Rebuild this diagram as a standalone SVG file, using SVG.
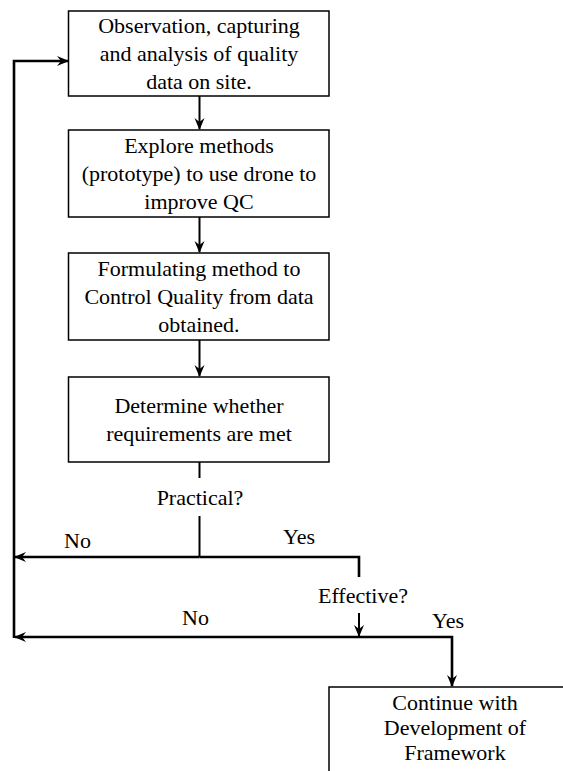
<svg xmlns="http://www.w3.org/2000/svg" width="563" height="771" viewBox="0 0 563 771" font-family="'Liberation Serif', 'Times New Roman', Times, serif">
  <style>
    .box { fill: #ffffff; stroke: #000000; stroke-width: 1.5; }
    text { font-family: 'Liberation Serif', 'Times New Roman', Times, serif; font-size: 22px; fill: #000000; }
    .txt { text-anchor: middle; }
    .ln { fill: none; stroke: #000000; stroke-width: 2; }
    .fb { fill: none; stroke: #000000; stroke-width: 2.6; }
  </style>
  <defs>
    <marker id="arrow" viewBox="0 0 12 12" refX="11" refY="6" markerWidth="12" markerHeight="12" markerUnits="userSpaceOnUse" orient="auto">
      <path d="M0,1 L12,6 L0,11 L4,6 Z" fill="#000000"/>
    </marker>
  </defs>
  <rect width="563" height="771" fill="#ffffff"/>

  <!-- connectors -->
  <g id="connectors">
    <line class="ln" x1="199.5" y1="96" x2="199.5" y2="129" marker-end="url(#arrow)"/>
    <line class="ln" x1="199.5" y1="217" x2="199.5" y2="252" marker-end="url(#arrow)"/>
    <line class="ln" x1="199.5" y1="340" x2="199.5" y2="376" marker-end="url(#arrow)"/>
    <!-- decision: practical -->
    <line class="ln" x1="199.5" y1="462" x2="199.5" y2="478"/>
    <line class="ln" x1="199.5" y1="516" x2="199.5" y2="557"/>
    <polyline class="fb" points="199.5,557 359,557 359,577"/>
    <line class="fb" x1="199.5" y1="557" x2="15" y2="557" marker-end="url(#arrow)"/>
    <!-- decision: effective -->
    <line class="ln" x1="359" y1="613" x2="359" y2="636" marker-end="url(#arrow)"/>
    <line class="fb" x1="359" y1="637" x2="15" y2="637" marker-end="url(#arrow)"/>
    <polyline class="fb" points="359,637 452,637 452,686" marker-end="url(#arrow)"/>
    <!-- loop back to start -->
    <polyline class="fb" points="14,638 14,61 68,61" marker-end="url(#arrow)"/>
  </g>

  <g id="n1">
    <rect class="box" x="68.5" y="11" width="260.5" height="85"/>
    <text class="txt" x="199" y="33">Observation, capturing</text>
    <text class="txt" x="199" y="61">and analysis of quality</text>
    <text class="txt" x="199" y="89">data on site.</text>
  </g>
  <g id="n2">
    <rect class="box" x="68.5" y="130" width="260.5" height="87"/>
    <text class="txt" x="199" y="153">Explore methods</text>
    <text class="txt" x="199" y="181">(prototype) to use drone to</text>
    <text class="txt" x="199" y="209">improve QC</text>
  </g>
  <g id="n3">
    <rect class="box" x="68.5" y="253" width="260.5" height="87"/>
    <text class="txt" x="199" y="276">Formulating method to</text>
    <text class="txt" x="199" y="304">Control Quality from data</text>
    <text class="txt" x="199" y="332">obtained.</text>
  </g>
  <g id="n4">
    <rect class="box" x="68.5" y="377" width="260.5" height="85"/>
    <text class="txt" x="199" y="413">Determine whether</text>
    <text class="txt" x="199" y="441">requirements are met</text>
  </g>
  <g id="n5">
    <rect class="box" x="329" y="687" width="252" height="100"/>
    <text class="txt" x="455" y="710">Continue with</text>
    <text class="txt" x="455" y="735">Development of</text>
    <text class="txt" x="455" y="760">Framework</text>
  </g>

  <g id="labels">
    <text class="txt" x="200" y="505">Practical?</text>
    <text class="txt" x="363" y="603">Effective?</text>
    <text x="64" y="548">No</text>
    <text x="283" y="544">Yes</text>
    <text x="182" y="625">No</text>
    <text x="432" y="628">Yes</text>
  </g>
</svg>
